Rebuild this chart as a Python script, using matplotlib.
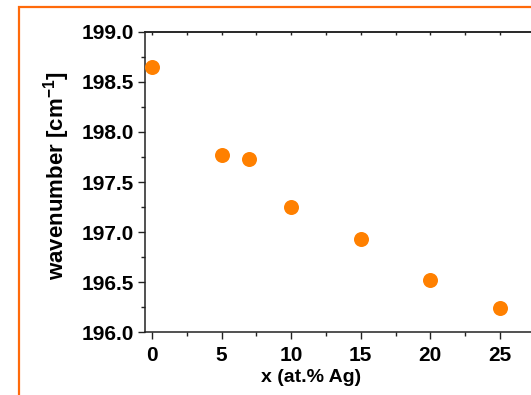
import matplotlib
matplotlib.use("Agg")
import matplotlib.pyplot as plt
from matplotlib.patches import Rectangle
from matplotlib.ticker import MultipleLocator, FixedLocator, NullFormatter, FormatStrFormatter

# Ag content (at.%) and peak position (cm^-1)
ag_content = [0, 5, 7, 10, 15, 20, 25]
wavenumber = [198.65, 197.77, 197.73, 197.25, 196.93, 196.52, 196.24]
x_ticks = [0, 5, 10, 15, 20, 25]

x_label = "x (at.% Ag)"
y_label = r"wavenumber [cm$^{\mathbf{-1}}$]"

plt.rcParams["font.family"] = ["Liberation Sans", "DejaVu Sans"]
plt.rcParams["font.weight"] = "bold"
plt.rcParams["mathtext.fontset"] = "custom"
plt.rcParams["mathtext.rm"] = "Liberation Sans:bold"
plt.rcParams["mathtext.bf"] = "Liberation Sans:bold"

W, H = 531, 395
fig = plt.figure(figsize=(W / 100, H / 100), dpi=100)
fig.patch.set_facecolor("white")

# orange panel frame
fig.patches.append(Rectangle((18.5 / W, -0.1), 1.2, 1 - 6.5 / H + 0.1,
                             transform=fig.transFigure, fill=False,
                             edgecolor="#FF6A0A", linewidth=1.6, zorder=0))

ax_left, ax_top, ax_bottom = 145, 31.7, 332.3
px_per_unit = 13.92
x_min, x_max = -0.5, 30
ax_w = (x_max - x_min) * px_per_unit
ax_h = ax_bottom - ax_top
ax = fig.add_axes([ax_left / W, 1 - ax_bottom / H, ax_w / W, ax_h / H])

ax.plot(ag_content, wavenumber, linestyle="none", marker="o", markersize=10.8,
        color="#FF8000", markeredgewidth=0, clip_on=False, zorder=3)

ax.set_xlim(x_min, x_max)
ax.set_ylim(196.0, 199.0)
ax.xaxis.set_major_locator(FixedLocator(x_ticks))
ax.xaxis.set_minor_locator(FixedLocator([2.5, 7.5, 12.5, 17.5, 22.5]))
ax.yaxis.set_major_locator(MultipleLocator(0.5))
ax.yaxis.set_minor_locator(MultipleLocator(0.25))
ax.yaxis.set_major_formatter(FormatStrFormatter("%.1f"))

spine_color = "#222222"
for side in ("left", "bottom", "top", "right"):
    ax.spines[side].set_color(spine_color)
    ax.spines[side].set_linewidth(1.1)

ax.tick_params(axis="both", which="major", direction="out", length=5, width=1.0,
               color=spine_color, labelsize=15, pad=3)
ax.tick_params(axis="x", which="major", pad=5)
ax.tick_params(axis="both", which="minor", direction="out", length=3, width=1.0,
               color=spine_color)
for lab in ax.get_xticklabels() + ax.get_yticklabels():
    lab.set_fontweight("bold")

# short inward ticks along the top edge
top = ax.secondary_xaxis("top")
top.xaxis.set_major_locator(FixedLocator([0, 2.5, 5, 7.5, 10, 12.5, 15, 17.5, 20, 22.5, 25]))
top.xaxis.set_major_formatter(NullFormatter())
top.tick_params(direction="in", length=2.5, width=1.0, color=spine_color)
top.spines["top"].set_color(spine_color)
top.spines["top"].set_linewidth(1.1)

ax.set_xlabel(x_label, fontsize=14, fontweight="bold")
ax.xaxis.set_label_coords((311 - ax_left) / ax_w, -(368.5 - ax_bottom) / ax_h)
ax.set_ylabel(y_label, fontsize=16, fontweight="bold")
ax.yaxis.set_label_coords((72 - ax_left) / ax_w, (ax_bottom - 175.5) / ax_h)

fig.savefig("out.png", dpi=100)
